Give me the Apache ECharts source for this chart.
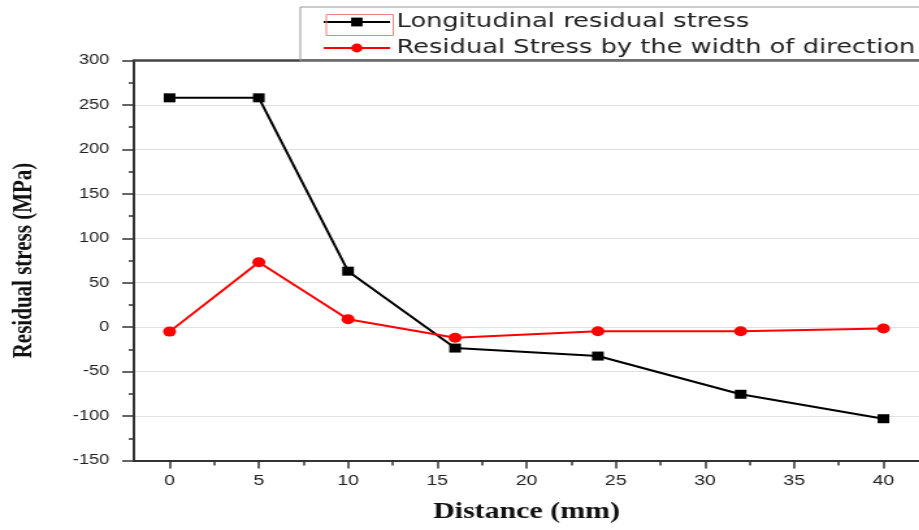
<!DOCTYPE html>
<html>
<head>
<meta charset="utf-8">
<script src="https://cdn.jsdelivr.net/npm/echarts@6/dist/echarts.min.js"></script>
<style>
  html, body { margin: 0; padding: 0; background: #fff; overflow: hidden; }
  #chart { width: 707px; height: 530px; transform: scaleX(1.3); transform-origin: 0 0; }
</style>
</head>
<body>
<div id="chart"></div>
<script>
// ---- data ----
const distance = [0, 5, 10, 16, 24, 32, 40];
const longitudinal = [258, 258, 63, -23.5, -32.5, -75.5, -103];
const transverse = [-5, 73, 9, -12, -4.5, -4.5, -1.5];
const seriesNames = ['Longitudinal residual stress', 'Residual Stress by the width of direction'];
const xMajorTicks = [0, 5, 10, 15, 20, 25, 30, 35, 40];
const xMinorTicks = [2.5, 7.5, 12.5, 17.5, 22.5, 27.5, 32.5, 37.5];
const xTitle = 'Distance (mm)';
const yTitle = 'Residual stress (MPa)';

const chart = echarts.init(document.getElementById('chart'), null, { renderer: 'canvas' });

const axisColor = '#333';
const labelFont = 'Liberation Sans, Arial, sans-serif';
const titleFont = 'Liberation Serif, Times New Roman, serif';

chart.setOption({
  animation: false,
  backgroundColor: '#fff',
  grid: {
    left: 102.3, right: -3, top: 60.5, bottom: 69.5,
    show: false
  },
  legend: {
    orient: 'vertical',
    left: 231, top: 7,
    padding: [5, 40, 3, 17],
    itemWidth: 51, itemHeight: 11, itemGap: 6,
    borderColor: '#999', borderWidth: 1,
    textStyle: { fontFamily: 'DejaVu Sans, sans-serif', fontSize: 19.8, color: '#222', lineHeight: 20 },
    data: seriesNames
  },
  graphic: [{
    type: 'rect', left: 248.5, top: 12, z: 100,
    shape: { width: 51.5, height: 21 },
    style: { fill: 'none', stroke: '#f08080', lineWidth: 1 }
  }],
  xAxis: [{
    type: 'value', min: -2, max: 42,
    name: xTitle, nameLocation: 'middle', nameGap: 40,
    nameTextStyle: { fontFamily: titleFont, fontWeight: 'bold', fontSize: 23, color: '#111' },
    axisLine: { show: true, onZero: false, lineStyle: { color: axisColor, width: 2 } },
    axisTick: { show: true, length: 8, customValues: xMajorTicks, lineStyle: { color: axisColor, width: 1.5 } },
    axisLabel: { customValues: xMajorTicks, margin: 13, fontFamily: labelFont, fontSize: 15, color: '#222' },
    splitLine: { show: false }
  }, {
    type: 'value', min: -2, max: 42, position: 'bottom',
    axisLine: { show: false, onZero: false },
    axisTick: { show: true, length: 5, customValues: xMinorTicks, lineStyle: { color: axisColor, width: 1.5 } },
    axisLabel: { show: false },
    splitLine: { show: false }
  }, {
    type: 'value', min: -2, max: 42, position: 'top',
    axisLine: { show: true, onZero: false, lineStyle: { color: '#444', width: 2.5 } },
    axisTick: { show: false },
    axisLabel: { show: false },
    splitLine: { show: false }
  }],
  yAxis: {
    type: 'value', min: -150, max: 300, interval: 50,
    name: yTitle, nameLocation: 'middle', nameGap: 74,
    nameTextStyle: { fontFamily: titleFont, fontWeight: 'bold', fontSize: 21, color: '#111' },
    axisLine: { show: true, onZero: false, lineStyle: { color: axisColor, width: 2 } },
    axisTick: { show: true, length: 9, lineStyle: { color: axisColor, width: 1.5 } },
    minorTick: { show: true, splitNumber: 2, length: 4, lineStyle: { color: axisColor, width: 1.5 } },
    axisLabel: { margin: 19, fontFamily: labelFont, fontSize: 14, color: '#222' },
    splitLine: { show: true, lineStyle: { color: '#e0e0e0', width: 1 } }
  },
  series: [{
    name: seriesNames[0], type: 'line', xAxisIndex: 0,
    data: distance.map((d, i) => [d, longitudinal[i]]),
    symbol: 'rect', symbolSize: 9,
    lineStyle: { color: '#000', width: 2 },
    itemStyle: { color: '#000' }
  }, {
    name: seriesNames[1], type: 'line', xAxisIndex: 0,
    data: distance.map((d, i) => [d, transverse[i]]),
    symbol: 'circle', symbolSize: 10,
    lineStyle: { color: '#ff0000', width: 2 },
    itemStyle: { color: '#ff0000' }
  }]
});
</script>
</body>
</html>
